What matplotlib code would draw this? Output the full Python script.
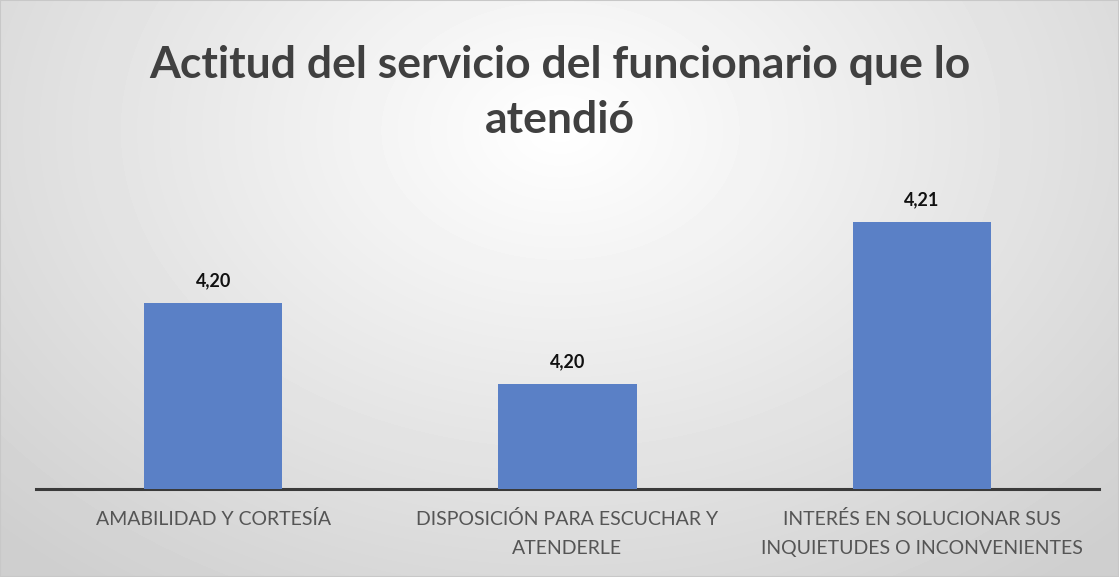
import numpy as np
import matplotlib
matplotlib.use("Agg")
from matplotlib import pyplot as plt

# data
categorias = ["AMABILIDAD Y CORTESÍA",
              "DISPOSICIÓN PARA ESCUCHAR Y\nATENDERLE",
              "INTERÉS EN SOLUCIONAR SUS\nINQUIETUDES O INCONVENIENTES"]
valores = [4.2035, 4.1985, 4.2085]
titulo = "Actitud del servicio del funcionario que lo\natendió"

fig = plt.figure(figsize=(11.19, 5.77), dpi=100)

# radial gradient background
bg = fig.add_axes([0, 0, 1, 1], zorder=-10)
yy, xx = np.mgrid[0:577, 0:1119]
r = np.sqrt(((xx - 560) / 720.0) ** 2 + ((yy - 130) / 520.0) ** 2)
shade = 1.0 - 0.19 * np.clip(r, 0, 1.1) / 1.1
bg.imshow(shade, cmap="gray", vmin=0, vmax=1, aspect="auto",
          extent=[0, 1, 0, 1], origin="upper")
bg.axis("off")
bg.add_patch(plt.Rectangle((0, 0), 1, 1, transform=bg.transAxes,
                           fill=False, edgecolor="#c8c8c8", lw=1.5))

ax = fig.add_axes([36 / 1119, 88 / 577, 1063 / 1119, 319 / 577])
ax.patch.set_alpha(0)

x = np.arange(len(categorias))
bars = ax.bar(x, valores, width=0.39, color="#5a80c6", zorder=3)
ax.set_xlim(-0.5, 2.5)
ax.set_ylim(4.192, 4.2117)

for b, v in zip(bars, valores):
    ax.annotate(f"{v:.2f}".replace(".", ","),
                (b.get_x() + b.get_width() / 2, b.get_height() + b.get_y()),
                xytext=(0, 10), textcoords="offset points",
                ha="center", va="bottom", fontsize=13, fontweight="bold",
                family="Lato", color="#111111")

ax.set_xticks(x)
ax.set_xticklabels(categorias, family="Lato", fontsize=14,
                   color="#555555", linespacing=1.85)
ax.tick_params(axis="x", length=0, pad=15)
ax.set_yticks([])
for s in ["top", "right", "left"]:
    ax.spines[s].set_visible(False)
ax.spines["bottom"].set_color("#3a3a3a")
ax.spines["bottom"].set_linewidth(2.2)

fig.text(0.5, 0.757, titulo, ha="center", va="bottom", family="Lato",
         fontweight="bold", fontsize=32, color="#404040", linespacing=1.45)

fig.savefig("out.png", dpi=100)
